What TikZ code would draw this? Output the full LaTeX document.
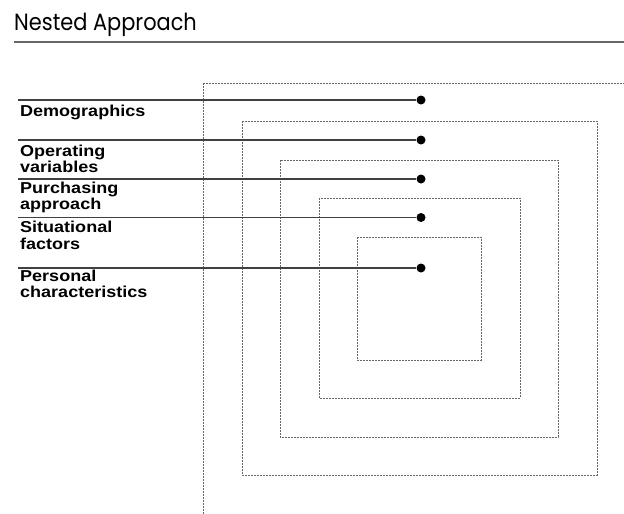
\documentclass[tikz,border=0pt]{standalone}
\usepackage{fontspec}
\setmainfont{Liberation Sans}[FakeStretch=1.14]
\newfontfamily\titlefont{Poppins}[FakeStretch=0.89]
\usepackage{tikz}

\tikzset{
  nest/.style={draw=black!60, line width=0.9pt, dash pattern=on 1.6pt off 1.4pt},
  lead/.style={draw=black!75, line width=1.2pt},
  dot/.style={circle, fill=black, inner sep=0pt, minimum size=9pt},
  lab/.style={anchor=base west, align=left, inner sep=0pt, font=\bfseries\fontsize{15.8}{16.5}\selectfont}
}

\begin{document}
\begin{tikzpicture}[x=1pt,y=-1pt]
        \useasboundingbox (0,0) rectangle (624,514);
        \clip (0,0) rectangle (624,514);
        % title
        \node[anchor=base west, inner sep=0pt, font=\titlefont\fontsize{23.5}{23.5}\selectfont] (title) at (14,30) {Nested Approach};
        \draw[black!60, line width=2pt] (14,42) -- (624,42);
        % nested boxes
        \draw[nest] (203,83) rectangle (650,540);
        \draw[nest] (242,121) rectangle (597,475);
        \draw[nest] (280,160) rectangle (558,437);
        \draw[nest] (319,198) rectangle (520,398);
        \draw[nest] (357,237) rectangle (481,360);
        % leaders
        \coordinate (s1) at (18,100);
        \coordinate (s2) at (18,140);
        \coordinate (s3) at (18,179);
        \coordinate (s4) at (18,217.5);
        \coordinate (s5) at (18,268);
        \node[dot] (d1) at (421,100) {};
        \node[dot] (d2) at (421,140) {};
        \node[dot] (d3) at (421,179) {};
        \node[dot] (d4) at (421,217.5) {};
        \node[dot] (d5) at (421,268) {};
        \draw[lead] (s1) -- (d1);
        \draw[lead] (s2) -- (d2);
        \draw[lead] (s3) -- (d3);
        \draw[lead] (s4) -- (d4);
        \draw[lead] (s5) -- (d5);
        % labels (base = last line)
        \node[lab] (demo) at (20,116) {Demographics};
        \node[lab] (oper) at (20,172.5) {Operating\\variables};
        \node[lab] (purch) at (20,209.5) {Purchasing\\approach};
        \node[lab] (situ) at (20,249) {Situational\\factors};
        \node[lab] (pers) at (20,297.5) {Personal\\characteristics};
\end{tikzpicture}
\end{document}
